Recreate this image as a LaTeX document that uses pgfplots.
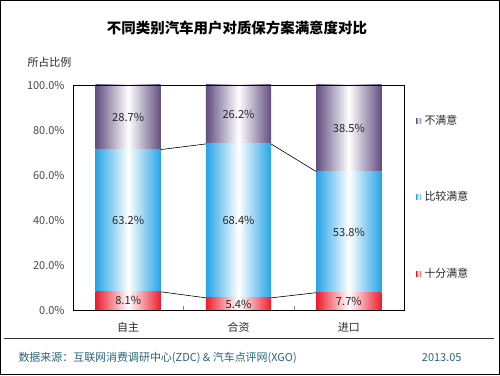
\documentclass[border=0pt]{standalone}
\usepackage{fontspec}
\setmainfont{Noto Sans CJK SC}
\usepackage{pgfplots}
\pgfplotsset{compat=1.18}
\definecolor{cpur}{RGB}{98,78,128}
\definecolor{cblu}{RGB}{38,164,230}
\definecolor{cred}{RGB}{238,28,46}
\definecolor{ctxt}{RGB}{40,40,40}
\definecolor{csrc}{RGB}{40,100,125}
\tikzset{lbl/.style={font=\fontsize{11.2}{11.2}\selectfont, text=ctxt}}
\pgfplotsset{
  base/.style={at={(73bp,65bp)}, anchor=south west, width=331bp, height=225bp, scale only axis,
    xmin=-0.5, xmax=2.5, ymin=0, ymax=100, clip=false},
  onebar/.style={base, ybar stacked, bar width=0.59, hide axis},
  sred/.style={draw=none, left color=cred, right color=cred, middle color=white},
  sblu/.style={draw=none, left color=cblu, right color=cblu, middle color=white},
  spur/.style={draw=none, left color=cpur, right color=cpur, middle color=white},
}
\begin{document}
\begin{tikzpicture}[x=1bp,y=1bp]
\draw[black, line width=0.8bp] (0.4,0.4) rectangle (499.6,374.6);
\node[font=\fontsize{14.5}{15}\selectfont\bfseries] at (237,347) {不同类别汽车用户对质保方案满意度对比};
\node[anchor=west, font=\fontsize{11}{11}\selectfont, text=ctxt] at (24,313) {所占比例};
% bars: category 0
\begin{axis}[onebar]
\addplot[sred] coordinates {(0,8.1)};
\addplot[sblu] coordinates {(0,63.2)};
\addplot[spur] coordinates {(0,28.7)};
\end{axis}
% category 1
\begin{axis}[onebar]
\addplot[sred] coordinates {(1,5.4)};
\addplot[sblu] coordinates {(1,68.4)};
\addplot[spur] coordinates {(1,26.2)};
\end{axis}
% category 2
\begin{axis}[onebar]
\addplot[sred] coordinates {(2,7.7)};
\addplot[sblu] coordinates {(2,53.8)};
\addplot[spur] coordinates {(2,38.5)};
\end{axis}
% frame, ticks, series lines, labels
\begin{axis}[base,
  xtick={0,1,2}, xticklabels={自主,合资,进口}, xtick pos=bottom,
  major tick length=0pt,
  extra x ticks={0.5,1.5}, extra x tick labels={},
  extra x tick style={major tick length=4bp, tick align=inside},
  ytick={0,20,...,100}, ytick pos=left,
  yticklabel={\pgfmathprintnumber[fixed,fixed zerofill,precision=1]{\tick}\%},
  /pgf/number format/assume math mode=true,
  yticklabel style={font=\fontsize{11}{11}\selectfont, text=ctxt!85, xshift=-5bp},
  xticklabel style={font=\fontsize{11}{11}\selectfont, text=ctxt, yshift=-9bp},
  axis line style={black, line width=0.8bp}]
\addplot[black, line width=0.6bp] coordinates {(0.295,8.1) (0.705,5.4)};
\addplot[black, line width=0.6bp] coordinates {(1.295,5.4) (1.705,7.7)};
\addplot[black, line width=0.6bp] coordinates {(0.295,71.3) (0.705,73.8)};
\addplot[black, line width=0.6bp] coordinates {(1.295,73.8) (1.705,61.5)};
\node[lbl] at (axis cs:0,4.05) {8.1\%};
\node[lbl] at (axis cs:1,2.7) {5.4\%};
\node[lbl] at (axis cs:2,3.85) {7.7\%};
\node[lbl] at (axis cs:0,39.7) {63.2\%};
\node[lbl] at (axis cs:1,39.6) {68.4\%};
\node[lbl] at (axis cs:2,34.6) {53.8\%};
\node[lbl] at (axis cs:0,85.65) {28.7\%};
\node[lbl] at (axis cs:1,86.9) {26.2\%};
\node[lbl] at (axis cs:2,80.75) {38.5\%};
\end{axis}
\begin{scope}[font=\fontsize{11}{11}\selectfont]
\shade[left color=cpur, right color=cpur, middle color=white] (416,252) rectangle (421,257);
\node[text=ctxt, anchor=west] at (421,254.5) {不满意};
\shade[left color=cblu, right color=cblu, middle color=white] (416,176) rectangle (421,181);
\node[text=ctxt, anchor=west] at (421,178.5) {比较满意};
\shade[left color=cred, right color=cred, middle color=white] (416,99) rectangle (421,104);
\node[text=ctxt, anchor=west] at (421,101.5) {十分满意};
\end{scope}
\draw[black!80, line width=0.8bp] (4,36.5) -- (494,36.5);
\node[anchor=west, font=\fontsize{11}{11}\selectfont, text=csrc] at (15,17.5) {数据来源：互联网消费调研中心(ZDC) \& 汽车点评网(XGO)};
\node[anchor=east, font=\fontsize{11}{11}\selectfont, text=csrc] at (465,17.5) {2013.05};
\end{tikzpicture}
\end{document}
